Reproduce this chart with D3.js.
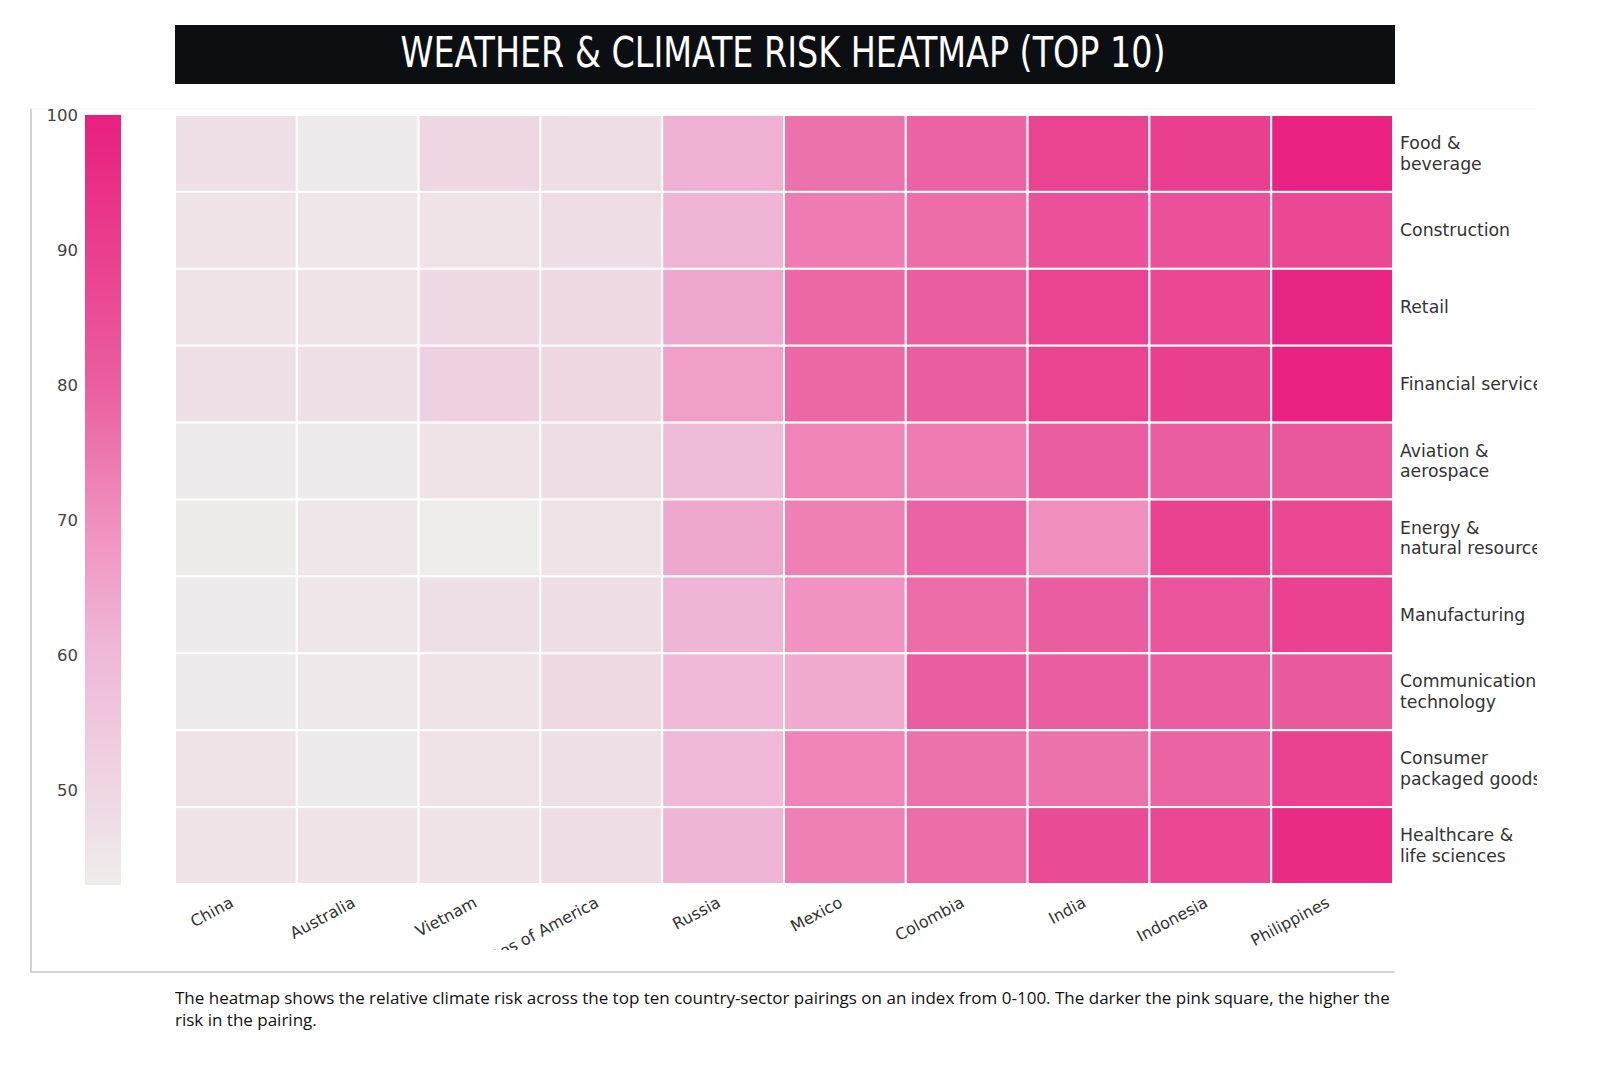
<!DOCTYPE html>
<html>
<head>
<meta charset="utf-8">
<script src="https://cdn.jsdelivr.net/npm/d3@7"></script>
<style>
  body { margin: 0; background: #fff; }
  svg { display: block; }
</style>
</head>
<body>
<script>
// -------------------- DATA --------------------
var countries = ["China", "Australia", "Vietnam", "United States of America", "Russia",
                 "Mexico", "Colombia", "India", "Indonesia", "Philippines"];
var sectors = [["Food &", "beverage"], ["Construction"], ["Retail"], ["Financial services"],
               ["Aviation &", "aerospace"], ["Energy &", "natural resources"], ["Manufacturing"],
               ["Communication", "technology"], ["Consumer", "packaged goods"], ["Healthcare &", "life sciences"]];

// one row per sector, one value per country (same order as countries)
var foodBeverage  = [47, 44, 50, 48, 62, 76, 79, 88, 90, 99];
var construction  = [46, 45, 46, 48, 61, 74, 77, 84, 84, 87];
var retail        = [46, 46, 49, 49, 64, 78, 80, 88, 87, 98];
var financial     = [47, 47, 52, 50, 66, 78, 80, 88, 90, 99];
var aviation      = [44, 44, 46, 48, 59, 72, 74, 80, 80, 82];
var energy        = [43.5, 45, 43, 46, 64, 73, 79, 70, 89, 87];
var manufacturing = [44, 45, 47, 48, 61, 69, 77, 80, 83, 89];
var communication = [44, 44.5, 46, 49, 60, 63, 80, 80, 80, 81];
var consumerGoods = [46, 44, 46, 47, 60, 72, 76, 76, 79, 89];
var healthcare    = [46, 46, 46, 48, 61, 73, 77, 86, 87, 96];

var values = [foodBeverage, construction, retail, financial, aviation,
              energy, manufacturing, communication, consumerGoods, healthcare];

var scaleTicks = [50, 60, 70, 80, 90, 100];
var scaleDomain = [43, 100];

var title = "WEATHER & CLIMATE RISK HEATMAP (TOP 10)";
var note = ["The heatmap shows the relative climate risk across the top ten country-sector pairings on an index from 0-100. The darker the pink square, the higher the",
            "risk in the pairing."];

// -------------------- DIMENSIONS --------------------
var w = 1610, h = 1082;
var grid = { left: 175, right: 1393, top: 115, bottom: 884 };
var bar = { x: 85, w: 36 };

// colour ramp: grey-white -> deep pink
var color = d3.scaleLinear()
  .domain([43, 50, 60, 70, 80, 90, 100])
  .range(["#efedec", "#efd6e3", "#efb9d7", "#f08fbd", "#ea5e9f", "#ea3e8e", "#e91f80"])
  .clamp(true);

var svg = d3.select("body").append("svg")
  .attr("width", w).attr("height", h);

// -------------------- TITLE --------------------
svg.append("rect")
  .attr("x", 175).attr("y", 25).attr("width", 1220).attr("height", 59)
  .attr("fill", "#0c0f12");
svg.append("text")
  .attr("x", 783).attr("y", 67)
  .attr("text-anchor", "middle")
  .attr("fill", "#fff")
  .attr("textLength", 765)
  .attr("lengthAdjust", "spacingAndGlyphs")
  .style("font-family", "'Liberation Sans Narrow', 'DejaVu Sans Condensed', sans-serif")
  .style("font-size", "42px")
  .text(title);

// -------------------- FRAME --------------------
svg.append("line").attr("x1", 30).attr("x2", 1537).attr("y1", 109).attr("y2", 109)
  .attr("stroke", "#f1f1f1").attr("stroke-width", 1);
svg.append("line").attr("x1", 31).attr("x2", 31).attr("y1", 109).attr("y2", 972)
  .attr("stroke", "#d4d4d4").attr("stroke-width", 2);
svg.append("line").attr("x1", 30).attr("x2", 1395).attr("y1", 972).attr("y2", 972)
  .attr("stroke", "#d4d4d4").attr("stroke-width", 2);

svg.append("clipPath").attr("id", "clip")
  .append("rect").attr("x", 32).attr("y", 100).attr("width", 1505).attr("height", 850);

var g = svg.append("g").attr("clip-path", "url(#clip)");

// -------------------- SCALES --------------------
var x = d3.scaleBand().domain(countries).range([grid.left, grid.right]).padding(0);
var y = d3.scaleBand().domain(sectors.map(function(d){ return d.join(" "); }))
  .range([grid.top, grid.bottom]).padding(0);

// -------------------- CELLS --------------------
var cells = [];
values.forEach(function(row, r) {
  row.forEach(function(v, c) {
    cells.push({ sector: sectors[r].join(" "), country: countries[c], value: v });
  });
});

g.selectAll("rect.cell")
  .data(cells)
  .enter().append("rect")
  .attr("class", "cell")
  .attr("x", function(d){ return x(d.country); })
  .attr("y", function(d){ return y(d.sector); })
  .attr("width", x.bandwidth())
  .attr("height", y.bandwidth())
  .attr("fill", function(d){ return color(d.value); })
  .attr("stroke", "#fff")
  .attr("stroke-width", 2);

// -------------------- X LABELS --------------------
g.selectAll("text.xlab")
  .data(countries)
  .enter().append("text")
  .attr("class", "xlab")
  .attr("transform", function(d){
    return "translate(" + (x(d) + x.bandwidth() / 2 - 4) + ",901) rotate(-28)";
  })
  .attr("text-anchor", "end")
  .attr("dy", "0.35em")
  .attr("fill", "#333")
  .style("font-family", "'DejaVu Sans', Verdana, sans-serif")
  .style("font-size", "16px")
  .text(function(d){ return d; });

// -------------------- Y LABELS (right side) --------------------
var ylab = g.selectAll("text.ylab")
  .data(sectors)
  .enter().append("text")
  .attr("class", "ylab")
  .attr("x", 1400)
  .attr("y", function(d){ return y(d.join(" ")) + y.bandwidth() / 2; })
  .attr("fill", "#333")
  .style("font-family", "'DejaVu Sans', Verdana, sans-serif")
  .style("font-size", "17.3px");

ylab.selectAll("tspan")
  .data(function(d){
    return d.map(function(line, i){ return { line: line, i: i, n: d.length }; });
  })
  .enter().append("tspan")
  .attr("x", 1400)
  .attr("dy", function(t){
    if (t.i === 0) return (t.n === 1 ? 0.35 : -0.25) + "em";
    return "1.2em";
  })
  .text(function(t){ return t.line; });

// -------------------- COLOUR BAR --------------------
var cb = d3.scaleLinear().domain(scaleDomain).range([grid.bottom + 1, grid.top]);

var grad = svg.append("defs").append("linearGradient")
  .attr("id", "grad").attr("x1", 0).attr("x2", 0).attr("y1", 1).attr("y2", 0);
grad.selectAll("stop")
  .data(d3.range(0, 1.0001, 0.05))
  .enter().append("stop")
  .attr("offset", function(t){ return t; })
  .attr("stop-color", function(t){
    return color(scaleDomain[0] + t * (scaleDomain[1] - scaleDomain[0]));
  });

svg.append("rect")
  .attr("x", bar.x).attr("y", cb(scaleDomain[1]))
  .attr("width", bar.w).attr("height", cb(scaleDomain[0]) - cb(scaleDomain[1]))
  .attr("fill", "url(#grad)");

svg.selectAll("text.cbtick")
  .data(scaleTicks)
  .enter().append("text")
  .attr("class", "cbtick")
  .attr("x", 78)
  .attr("y", function(d){ return cb(d); })
  .attr("dy", "0.35em")
  .attr("text-anchor", "end")
  .attr("fill", "#444")
  .style("font-family", "'DejaVu Sans', Verdana, sans-serif")
  .style("font-size", "16.5px")
  .text(function(d){ return d; });

// -------------------- NOTE --------------------
svg.selectAll("text.note")
  .data(note)
  .enter().append("text")
  .attr("class", "note")
  .attr("x", 175)
  .attr("y", function(d, i){ return 1004 + i * 22; })
  .attr("fill", "#111")
  .style("font-family", "'Open Sans', sans-serif")
  .style("font-size", "17px")
  .text(function(d){ return d; });
</script>
</body>
</html>
